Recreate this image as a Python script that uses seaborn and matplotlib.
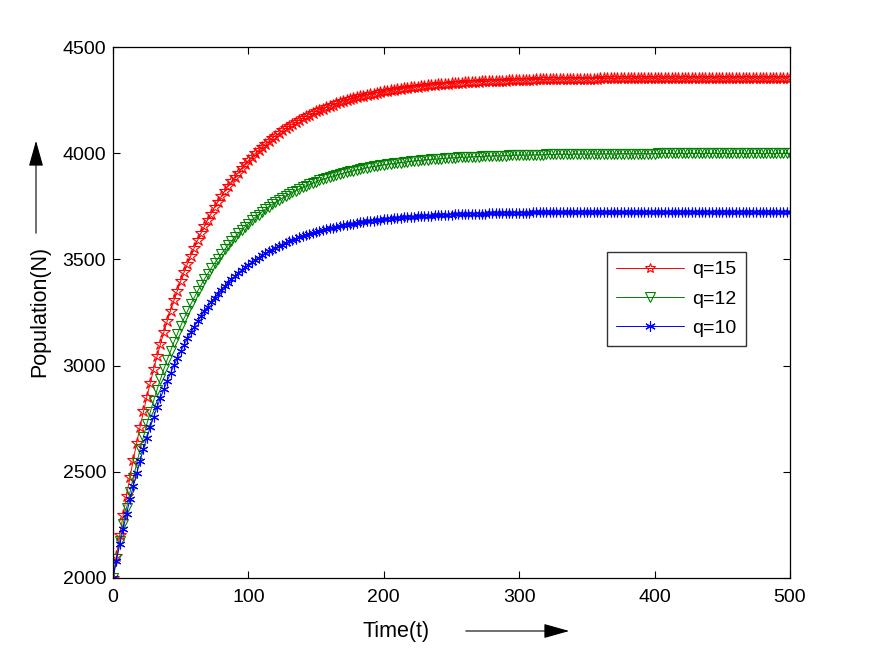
import matplotlib
matplotlib.use("Agg")
import matplotlib.pyplot as plt
import seaborn as sns
import pandas as pd

# ---- data (every 2.5 time units) ----
time_t = [i * 2.5 for i in range(201)]

pop_q15 = ([2000, 2104, 2203, 2297, 2388, 2474, 2557, 2636, 2712, 2784,
            2853, 2919, 2983, 3043, 3101, 3156, 3209, 3259, 3307, 3353,
            3398, 3440, 3480, 3518, 3555, 3590, 3624, 3656, 3687, 3716,
            3745, 3771, 3797, 3822, 3845, 3867, 3889, 3909, 3929, 3948,
            3966, 3983, 3999, 4015, 4030, 4044, 4058, 4071, 4083, 4095,
            4107, 4118, 4128, 4138, 4148, 4157, 4166, 4174, 4182, 4189,
            4197, 4204, 4210, 4217, 4223, 4229, 4234, 4240, 4245, 4249,
            4254, 4258, 4263, 4267, 4271, 4274, 4278, 4281, 4285, 4288,
            4291, 4293, 4296, 4299, 4301, 4304, 4306, 4308, 4310, 4312,
            4314, 4316, 4317, 4319, 4321, 4322, 4324, 4325, 4326, 4328,
            4329, 4330, 4331, 4332, 4333, 4334, 4335, 4336, 4337, 4338,
            4338, 4339, 4340, 4340, 4341, 4342, 4342, 4343, 4343, 4344,
            4344, 4345, 4345, 4346, 4346, 4347, 4347, 4347, 4348, 4348,
            4348, 4349, 4349, 4349, 4349, 4350, 4350, 4350, 4350, 4351,
            4351, 4351, 4351, 4351, 4352, 4352, 4352, 4352, 4352, 4352,
            4352] + [4353] * 19 + [4354] * 31)

pop_q12 = ([2000, 2088, 2172, 2253, 2330, 2403, 2473, 2540, 2605, 2666,
            2725, 2781, 2835, 2886, 2935, 2982, 3027, 3069, 3110, 3149,
            3187, 3223, 3257, 3290, 3321, 3351, 3379, 3407, 3433, 3458,
            3482, 3504, 3526, 3547, 3567, 3586, 3604, 3622, 3638, 3654,
            3669, 3684, 3698, 3711, 3724, 3736, 3748, 3759, 3769, 3779,
            3789, 3798, 3807, 3816, 3824, 3832, 3839, 3846, 3853, 3859,
            3866, 3872, 3877, 3883, 3888, 3893, 3897, 3902, 3906, 3910,
            3914, 3918, 3922, 3925, 3928, 3932, 3935, 3938, 3940, 3943,
            3945, 3948, 3950, 3952, 3954, 3956, 3958, 3960, 3962, 3964,
            3965, 3967, 3968, 3970, 3971, 3972, 3973, 3975, 3976, 3977,
            3978, 3979, 3980, 3981, 3981, 3982, 3983, 3984, 3984, 3985,
            3986, 3986, 3987, 3988, 3988, 3989, 3989, 3990, 3990, 3991,
            3991, 3991, 3992, 3992, 3992, 3993, 3993, 3993, 3994, 3994,
            3994, 3995, 3995, 3995, 3995, 3995, 3996, 3996, 3996, 3996,
            3996] + [3997] * 9 + [3998] * 11 + [3999] * 40)

pop_q10 = ([2000, 2081, 2159, 2232, 2303, 2370, 2434, 2494, 2552, 2608,
            2660, 2710, 2758, 2804, 2847, 2888, 2928, 2965, 3001, 3035,
            3068, 3099, 3128, 3156, 3183, 3209, 3233, 3256, 3278, 3299,
            3319, 3338, 3357, 3374, 3391, 3406, 3421, 3436, 3449, 3462,
            3475, 3486, 3498, 3508, 3519, 3528, 3538, 3546, 3555, 3563,
            3570, 3578, 3585, 3591, 3598, 3604, 3609, 3615, 3620, 3625,
            3630, 3634, 3638, 3642, 3646, 3650, 3654, 3657, 3660, 3663,
            3666, 3669, 3672, 3674, 3676, 3679, 3681, 3683, 3685, 3687,
            3689, 3690, 3692, 3694, 3695, 3696, 3698, 3699, 3700, 3701,
            3703, 3704, 3705, 3706, 3706, 3707, 3708, 3709, 3710, 3710,
            3711, 3712, 3712, 3713, 3714, 3714, 3715, 3715, 3716, 3716,
            3716, 3717, 3717, 3718, 3718, 3718, 3719, 3719, 3719, 3720,
            3720, 3720, 3720, 3720, 3721, 3721, 3721, 3721, 3721, 3722,
            3722, 3722, 3722, 3722, 3722, 3722] + [3723] * 19 + [3724] * 46)

series_labels = ["q=15", "q=12", "q=10"]
x_ticks = [0, 100, 200, 300, 400, 500]
y_ticks = [2000, 2500, 3000, 3500, 4000, 4500]

n = len(time_t)
df = pd.DataFrame({
    "t": time_t * 3,
    "N": pop_q15[:n] + pop_q12[:n] + pop_q10[:n],
    "q": [series_labels[0]] * n + [series_labels[1]] * n + [series_labels[2]] * n,
})

# ---- style ----
sns.set_theme(style="white")
plt.rcParams["font.family"] = ["Liberation Sans", "DejaVu Sans"]
plt.rcParams["text.color"] = "black"
plt.rcParams["axes.labelcolor"] = "black"
plt.rcParams["xtick.color"] = "black"
plt.rcParams["ytick.color"] = "black"

fig = plt.figure(figsize=(8.71, 6.5), dpi=100)
ax = fig.add_axes([113 / 871, 1 - 578 / 650, 677 / 871, 531 / 650])

colors = {"q=15": (1, 0, 0), "q=12": (0, 0.5, 0), "q=10": (0, 0, 1)}
markers = {"q=15": "*", "q=12": "v", "q=10": (6, 2, 0)}
msize = {"q=15": 9, "q=12": 7.5, "q=10": 7}

for lab in series_labels:
    sub = df[df["q"] == lab]
    sns.lineplot(data=sub, x="t", y="N", ax=ax, color=colors[lab],
                 linewidth=0.7, marker=markers[lab], markersize=msize[lab],
                 markerfacecolor="none", markeredgecolor=colors[lab],
                 markeredgewidth=0.8, label=lab, estimator=None, sort=False)

ax.set_xlim(0, 500)
ax.set_ylim(2000, 4500)
ax.set_xticks(x_ticks)
ax.set_yticks(y_ticks)
ax.set_xticklabels([str(v) for v in x_ticks], fontsize=14)
ax.set_yticklabels([str(v) for v in y_ticks], fontsize=14)
ax.tick_params(direction="in", length=5, width=0.8, colors="black",
               top=True, right=True, bottom=True, left=True)
ax.tick_params(axis="x", pad=8)
ax.tick_params(axis="y", pad=5)
for s in ax.spines.values():
    s.set_color("black")
    s.set_linewidth(0.9)
ax.set_xlabel("")
ax.set_ylabel("")

leg = ax.legend(loc="upper left", bbox_to_anchor=((607 - 113) / 677, (578 - 252) / 531),
                fontsize=14, frameon=True, fancybox=False, edgecolor="black",
                handlelength=3.5, borderpad=0.45, labelspacing=0.6,
                handletextpad=0.45, borderaxespad=0)
leg.get_frame().set_linewidth(1.0)
for txt in leg.get_texts():
    txt.set_color("black")
for h in leg.legend_handles:
    h.set_markersize(7.5)

# axis labels with arrows (figure coordinates)
fig.text(40 / 871, 1 - 311 / 650, "Population(N)", rotation=90, fontsize=15.5,
         ha="center", va="center", color="black")
fig.text(396 / 871, 1 - 632 / 650, "Time(t)", fontsize=15.5,
         ha="center", va="center", color="black")
fig.add_artist(matplotlib.patches.FancyArrowPatch(
    (36 / 871, 1 - 236 / 650), (36 / 871, 1 - 138 / 650),
    transform=fig.transFigure, arrowstyle="-|>,head_length=16,head_width=4.5",
    color="black", linewidth=0.8, mutation_scale=1))
fig.add_artist(matplotlib.patches.FancyArrowPatch(
    (463 / 871, 1 - 631 / 650), (572 / 871, 1 - 631 / 650),
    transform=fig.transFigure, arrowstyle="-|>,head_length=16,head_width=4.5",
    color="black", linewidth=0.8, mutation_scale=1))

fig.savefig("out.png", dpi=100, facecolor="white")
